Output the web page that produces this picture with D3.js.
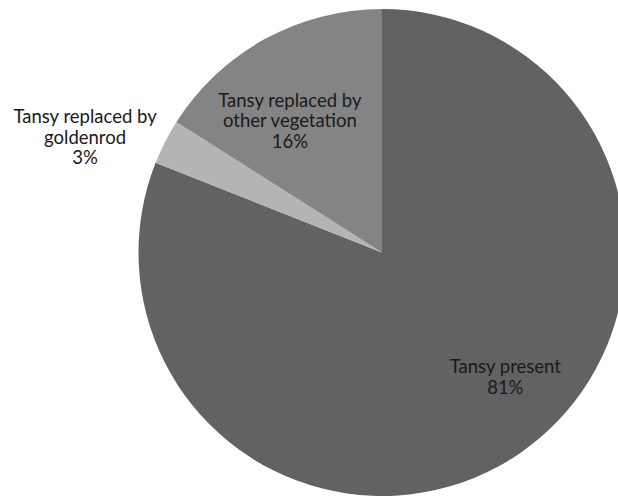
<!DOCTYPE html>
<html>
<head>
<meta charset="utf-8">
<script src="https://cdn.jsdelivr.net/npm/d3@7"></script>
<style>
  html, body { margin: 0; padding: 0; background: #fff; overflow: hidden; }
  svg { display: block; }
  text { font-family: Lato, "Liberation Sans", sans-serif; fill: #1a1a1a; }
</style>
</head>
<body>
<svg id="chart" width="618" height="497"></svg>
<script>
// Share of plots by outcome (percent)
const categories = ["Tansy present", "Tansy replaced by goldenrod", "Tansy replaced by other vegetation"];
const values = [81, 3, 16];
const labelLines = [
  ["Tansy present", "81%"],
  ["Tansy replaced by", "goldenrod", "3%"],
  ["Tansy replaced by", "other vegetation", "16%"]
];
const colors = ["#626262", "#b4b4b4", "#848484"];

// label placement: polar offset from slice middle (degrees) and radius factor
const labelAngleShift = [-10.5, -5.8, -6.2];
const labelRadiusFactor = [0.72, 1.308, 0.66];

const width = 618, height = 497;
const cx = 382, cy = 252.5, radius = 243.5;

const svg = d3.select("#chart");
const g = svg.append("g").attr("transform", `translate(${cx},${cy})`);

const pie = d3.pie().sort(null).value(d => d);
const arcs = pie(values);
const arc = d3.arc().innerRadius(0).outerRadius(radius);

g.selectAll("path.slice")
  .data(arcs)
  .join("path")
  .attr("class", "slice")
  .attr("d", arc)
  .attr("fill", (d, i) => colors[i])
  .attr("stroke", "none");

const lineH = 20.5;
const fontSize = 18.5;

arcs.forEach((d, i) => {
  const mid = (d.startAngle + d.endAngle) / 2 + labelAngleShift[i] * Math.PI / 180;
  const r = radius * labelRadiusFactor[i];
  const x = Math.sin(mid) * r;
  const y = -Math.cos(mid) * r;
  const lines = labelLines[i];
  const t = g.append("text")
    .attr("text-anchor", "middle")
    .attr("font-size", fontSize);
  lines.forEach((ln, k) => {
    t.append("tspan")
      .attr("x", x)
      .attr("y", y + (k - (lines.length - 1) / 2) * lineH)
      .attr("dy", "0.35em")
      .text(ln);
  });
});
</script>
</body>
</html>
